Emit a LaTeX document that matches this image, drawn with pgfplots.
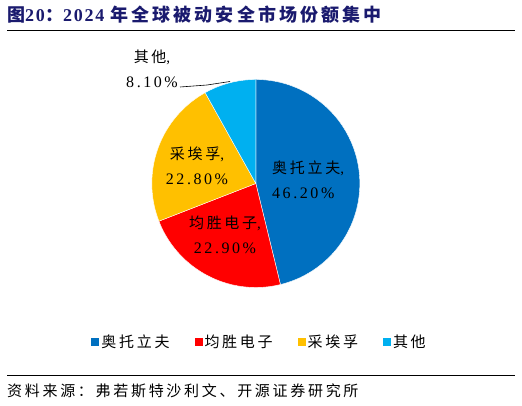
\documentclass[border=0pt]{standalone}
\usepackage{fontspec}
\setmainfont{Liberation Serif}
\newfontfamily\cjk{Noto Sans CJK SC}[LetterSpace=18]
\newfontfamily\cjkt{Noto Sans CJK SC}[LetterSpace=17]
\newfontfamily\lat{Liberation Serif}[LetterSpace=16]
\newfontfamily\latt{Liberation Serif}[LetterSpace=10]
\usepackage{pgfplots}
\pgfplotsset{compat=1.18}
\definecolor{cA}{HTML}{0070C0}
\definecolor{cB}{HTML}{FF0000}
\definecolor{cC}{HTML}{FFC000}
\definecolor{cD}{HTML}{00B0F0}
\definecolor{titleblue}{HTML}{1A1A6E}
% shares (%)
\def\vA{46.2}
\def\vB{22.9}
\def\vC{22.8}
\def\vD{8.1}
\pgfmathsetmacro{\aA}{90}
\pgfmathsetmacro{\aB}{\aA-3.6*\vA}
\pgfmathsetmacro{\aC}{\aB-3.6*\vB}
\pgfmathsetmacro{\aD}{\aC-3.6*\vC}
\pgfmathsetmacro{\aE}{\aD-3.6*\vD}
\begin{document}
\begin{tikzpicture}[x=1pt,y=1pt]
\path[use as bounding box] (0,0) rectangle (522,405);
% title
\node[anchor=base west, inner sep=0pt, text=titleblue] at (7,383)
  {\fontsize{18}{20}\selectfont\bfseries{\cjkt 图}{\latt 20}{\cjkt ：}{\latt 2024 }{\cjkt 年全球被动安全市场份额集中}};
\draw[line width=1pt] (7,374) -- (515,374);
\begin{axis}[at={(246,213)}, anchor=center, x=104pt, y=104pt,
  xmin=-1.2, xmax=1.2, ymin=-1.2, ymax=1.2, hide axis, clip=false,
  legend image code/.code={\path[#1,draw=none] (0pt,-4pt) rectangle (8pt,4pt);},
  legend style={at={(0.515,-0.136)}, anchor=center, draw=none, fill=none,
    legend columns=4, font=\cjk\fontsize{15}{18}\selectfont,
    /tikz/every even column/.append style={column sep=23pt},
    nodes={inner sep=2pt}},
  ]
\addplot[fill=cA, draw=white, line width=0.4pt, domain=\aA:\aB, samples=90, variable=\t] ({cos(\t)},{sin(\t)}) -- (axis cs:0,0) -- cycle;
\addlegendentry{奥托立夫}
\addplot[fill=cB, draw=white, line width=0.4pt, domain=\aB:\aC, samples=50, variable=\t] ({cos(\t)},{sin(\t)}) -- (axis cs:0,0) -- cycle;
\addlegendentry{均胜电子}
\addplot[fill=cC, draw=white, line width=0.4pt, domain=\aC:\aD, samples=50, variable=\t] ({cos(\t)},{sin(\t)}) -- (axis cs:0,0) -- cycle;
\addlegendentry{采埃孚}
\addplot[fill=cD, draw=white, line width=0.4pt, domain=\aD:\aE, samples=20, variable=\t] ({cos(\t)},{sin(\t)}) -- (axis cs:0,0) -- cycle;
\addlegendentry{其他}
\end{axis}
% data labels
\tikzset{lab/.style={inner sep=0pt, font=\fontsize{15}{25}\selectfont}}
\node[lab, align=left, anchor=west] at (272,225.5) {{\cjk 奥托立夫}{\lat ,}\\{\fontsize{16}{25}\selectfont\lat 46.20\%}};
\node[lab, align=center] at (225,170) {{\cjk 均胜电子}{\lat ,}\\{\fontsize{16}{25}\selectfont\lat 22.90\%}};
\node[lab, align=center] at (197,239.5) {{\cjk 采埃孚}{\lat ,}\\{\fontsize{16}{25}\selectfont\lat 22.80\%}};
\node[lab, align=center] at (152,336) {{\cjk 其他}{\lat ,}\\{\fontsize{16}{25}\selectfont\lat 8.10\%}};
\draw[line width=0.6pt] (180,318) -- (207,320) -- (230,323.5);
% source
\draw[line width=0.8pt] (7,30) -- (515,30);
\node[anchor=base west, inner sep=0pt] at (7,9) {\fontsize{15}{18}\selectfont\cjk 资料来源：弗若斯特沙利文、开源证券研究所};
\end{tikzpicture}
\end{document}
